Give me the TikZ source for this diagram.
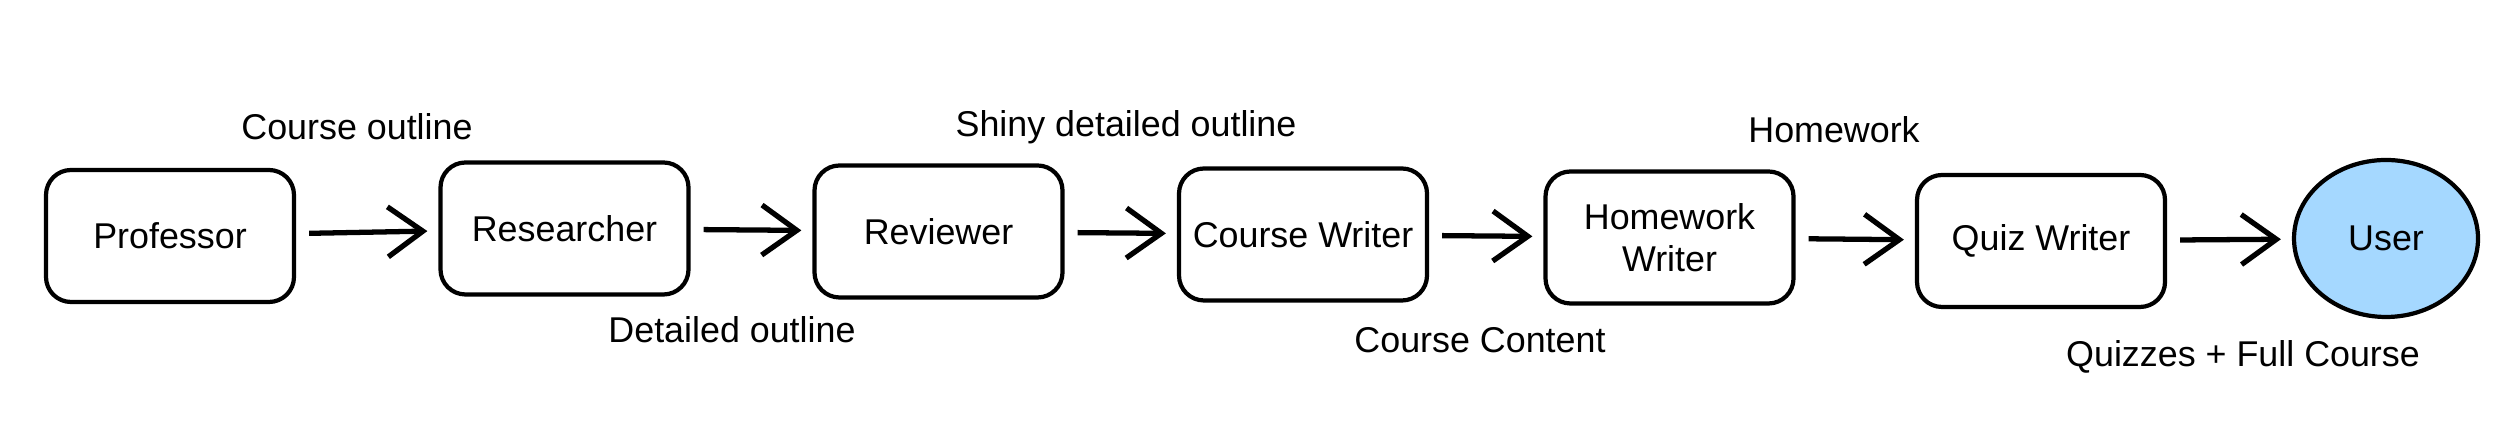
\documentclass[tikz,border=0pt]{standalone}
\usepackage{fontspec}
\setmainfont{Liberation Sans}
\usetikzlibrary{arrows.meta,shapes.geometric}
\definecolor{userblue}{HTML}{A5D8FF}
\begin{document}
\begin{tikzpicture}[font=\fontsize{10.2}{12}\selectfont, line width=1.2pt,
      >={Straight Barb[length=3.5mm,width=5mm]},
      box/.style={draw, rounded corners=0.25cm, align=center,
        minimum width=2.48cm, minimum height=1.32cm},
      lbl/.style={inner sep=1pt},
      flow/.style={->, line width=1.5pt, shorten <=0.13cm, shorten >=0.11cm}]
    \useasboundingbox (0,0) rectangle (25.12,4.40);
    % the chain of agents
    \node[box] (prof) at (1.70,2.04) {Professor};
    \node[box] (res) at (5.645,2.115) {Researcher};
    \node[box] (rev) at (9.385,2.085) {Reviewer};
    \node[box] (cw) at (13.03,2.055) {Course Writer};
    \node[box] (hw) at (16.695,2.025) {Homework\\Writer};
    \node[box] (qw) at (20.41,1.99) {Quiz Writer};
    \node[draw, ellipse, fill=userblue, minimum width=1.84cm,
      minimum height=1.57cm] (user) at (23.86,2.015) {User};
    % what is handed on
    \node[lbl] (outline) at (3.57,3.13) {Course outline};
    \node[lbl] (detailed) at (7.32,1.10) {Detailed outline};
    \node[lbl] (shiny) at (11.26,3.13) {Shiny detailed outline};
    \node[lbl] (content) at (14.80,1.00) {Course Content};
    \node[lbl] (homework) at (18.34,3.10) {Homework};
    \node[lbl] (quizzes) at (22.43,0.83) {Quizzes + Full Course};
    % arrows
    \draw[flow] (prof) -- (res);
    \draw[flow] (res) -- (rev);
    \draw[flow] (rev) -- (cw);
    \draw[flow] (cw) -- (hw);
    \draw[flow] (hw) -- (qw);
    \draw[flow] (qw) -- (user);
  \end{tikzpicture}
\end{document}
